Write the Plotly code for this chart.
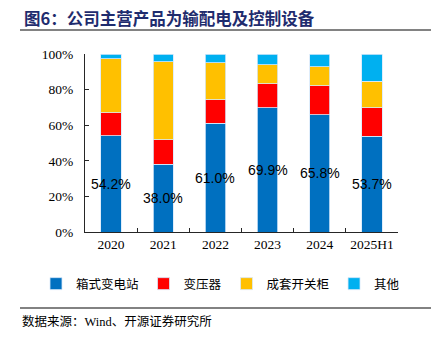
import plotly.graph_objects as go

categories = ["2020", "2021", "2022", "2023", "2024", "2025H1"]
box_sub = [54.2, 38.0, 61.0, 69.9, 65.8, 53.7]
transformer = [12.8, 13.8, 13.4, 13.5, 16.5, 16.2]
switchgear = [30.2, 43.9, 20.8, 10.7, 10.5, 14.8]
others = [2.8, 4.3, 4.8, 5.9, 7.2, 15.3]
series_names = ["箱式变电站", "变压器", "成套开关柜", "其他"]
colors = ["#0070C0", "#FF0000", "#FFC000", "#00B0F0"]
y_ticks = [0, 20, 40, 60, 80, 100]

fig = go.Figure()
for name, vals, c in zip(series_names, [box_sub, transformer, switchgear, others], colors):
    fig.add_trace(go.Bar(
        x=categories, y=vals, name=name,
        marker=dict(color=c, line=dict(color="rgba(215,232,250,1)", width=0.8)),
    ))

for i, v in enumerate(box_sub):
    fig.add_annotation(
        x=i, y=v / 2, text=f"{v:.1f}%", showarrow=False,
        font=dict(family="Liberation Sans, Arial", size=14, color="#000000"),
    )

fig.update_layout(
    barmode="stack",
    bargap=0.61,
    width=444, height=338,
    margin=dict(l=85, r=46, t=54, b=106),
    paper_bgcolor="white", plot_bgcolor="white",
    showlegend=True,
    legend=dict(
        orientation="h",
        x=(36 - 85) / 313, xanchor="left", y=-(269 - 232) / 178, yanchor="top",
        font=dict(family="Noto Sans CJK SC", size=12.5, color="#000000"),
        itemwidth=30, tracegroupgap=0, traceorder="normal",
        bgcolor="rgba(0,0,0,0)",
    ),
    font=dict(family="Liberation Serif, Times New Roman", size=13.5, color="#000000"),
)
fig.update_xaxes(
    type="category", range=[-0.5, 5.5], tickangle=0,
    showline=True, linecolor="#262626", linewidth=1,
    ticks="inside", tickson="boundaries", ticklen=4, tickcolor="#262626",
    tickfont=dict(family="Liberation Serif, Times New Roman", size=13.5, color="#000000"),
    showgrid=False,
)
fig.update_yaxes(
    range=[0, 100], tickvals=y_ticks, ticktext=[f"{t}%" for t in y_ticks],
    showline=True, linecolor="#262626", linewidth=1,
    ticks="inside", ticklen=4, tickcolor="#262626",
    tickfont=dict(family="Liberation Serif, Times New Roman", size=13.5, color="#000000"),
    showgrid=False, zeroline=False, ticklabelstandoff=8,
)

# title
fig.add_annotation(
    xref="paper", yref="paper", x=(22 - 85) / 313, y=1 + (54 - 18) / 178,
    xanchor="left", yanchor="middle", showarrow=False,
    text="<b>图6：公司主营产品为输配电及控制设备</b>",
    font=dict(family="Noto Sans CJK SC", size=16.5, color="#1F2C6E"),
)
# source
fig.add_annotation(
    xref="paper", yref="paper", x=(20 - 85) / 313, y=-(321 - 232) / 178,
    xanchor="left", yanchor="middle", showarrow=False,
    text="数据来源：Wind、开源证券研究所",
    font=dict(family="Liberation Serif, Noto Sans CJK SC", size=12.5, color="#000000"),
)
# rules
for ypix in [30, 308]:
    fig.add_shape(
        type="line", xref="paper", yref="paper",
        x0=(20 - 85) / 313, x1=(431 - 85) / 313,
        y0=(232 - ypix) / 178, y1=(232 - ypix) / 178,
        line=dict(color="#595959", width=1.5),
    )

fig.write_html("out.html")
